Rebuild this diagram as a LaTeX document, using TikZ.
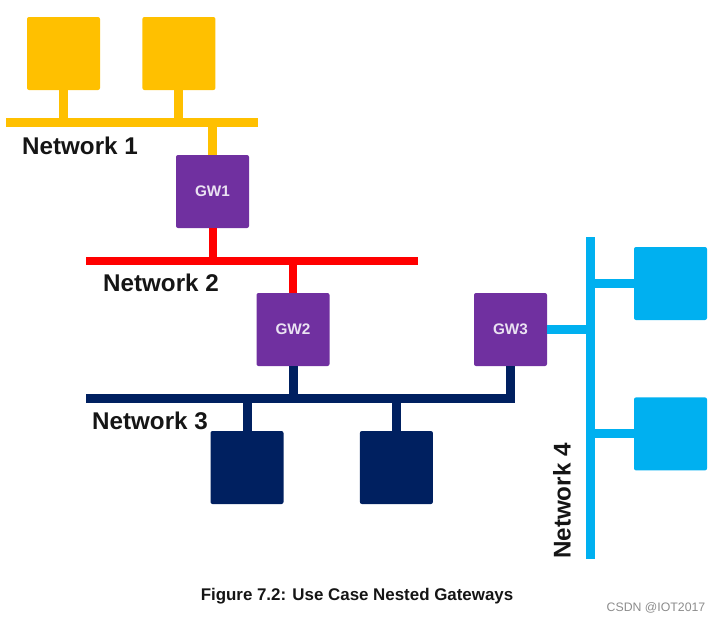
\documentclass[tikz,border=0pt]{standalone}
\usepackage{fontspec}
\setmainfont{Liberation Sans}
\usetikzlibrary{calc,positioning}
\definecolor{netyellow}{HTML}{FFC000}
\definecolor{netred}{HTML}{FF0000}
\definecolor{netnavy}{HTML}{002060}
\definecolor{netcyan}{HTML}{00B0F0}
\definecolor{gwpurple}{HTML}{7030A0}
\definecolor{gwtext}{HTML}{EAE2F2}
\definecolor{labelblack}{HTML}{151515}
\tikzset{
  basic/.style    = {rectangle, minimum size=73pt, inner sep=0pt, rounded corners=2pt},
  device/.style   = {basic},
  gateway/.style  = {basic, fill=gwpurple, text=gwtext,
                     font=\bfseries\fontsize{15.3}{15.3}\selectfont},
  bus/.style      = {line width=9pt},
  netlabel/.style = {inner sep=0pt, text=labelblack,
                     font=\bfseries\fontsize{24.2}{24.2}\selectfont}
}

\begin{document}
\begin{tikzpicture}[x=1pt, y=-1pt]
\useasboundingbox (0,0) rectangle (720,622);

% Network 1 (yellow)
\node[device, fill=netyellow] (dev11) at (63.5,53.5) {};
\node[device, fill=netyellow, right=42pt of dev11] (dev12) {};
\coordinate (n1w) at (6,122.5);
\coordinate (n1e) at (258,122.5);
\draw[bus, netyellow] (n1w) -- (n1e);
\node[netlabel] (lab1) at (80,146) {Network 1};

% Gateway 1
\node[gateway] (gw1) at (212.5,191.5) {GW1};

% Network 2 (red)
\coordinate (n2w) at (86,261);
\coordinate (n2e) at (418,261);
\draw[bus, netred, line width=8pt] (n2w) -- (n2e);
\node[netlabel] (lab2) at (161,283) {Network 2};

% Gateways 2 and 3
\node[gateway] (gw2) at (293,329.5) {GW2};
\node[gateway] (gw3) at (510.5,329.5) {GW3};

% Network 3 (navy)
\coordinate (n3w) at (86,398.5);
\coordinate (n3e) at (515,398.5);
\draw[bus, netnavy] (n3w) -- (n3e);
\node[netlabel] (lab3) at (150,421) {Network 3};
\node[device, fill=netnavy] (dev31) at (247,467.5) {};
\node[device, fill=netnavy, right=76pt of dev31] (dev32) {};

% Network 4 (cyan, vertical)
\coordinate (n4n) at (590.5,237);
\coordinate (n4s) at (590.5,559);
\draw[bus, netcyan] (n4n) -- (n4s);
\node[netlabel, rotate=90] (lab4) at (562,501) {Network 4};
\node[device, fill=netcyan] (dev41) at (670.5,283.5) {};
\node[device, fill=netcyan, below=77pt of dev41] (dev42) {};

% stubs from the nodes to their bus
\foreach \dev in {dev11,dev12,gw1}
  \draw[bus, netyellow] (\dev) -- (\dev |- n1w);
\foreach \dev in {gw1,gw2}
  \draw[bus, netred, line width=8pt] (\dev) -- (\dev |- n2w);
\foreach \dev in {gw2,gw3,dev31,dev32}
  \draw[bus, netnavy] (\dev) -- (\dev |- n3w);
\foreach \dev in {gw3,dev41,dev42}
  \draw[bus, netcyan] (\dev) -- (\dev -| n4n);

% caption and mark
\node[inner sep=0pt, text=labelblack, font=\bfseries\fontsize{16.9}{16.9}\selectfont]
  (caption) at (357,596) {Figure 7.2: Use Case Nested Gateways};
\node[inner sep=0pt, text=black!45, font=\fontsize{12.3}{12.3}\selectfont]
  (mark) at (656,607.5) {CSDN @IOT2017};
\end{tikzpicture}
\end{document}
